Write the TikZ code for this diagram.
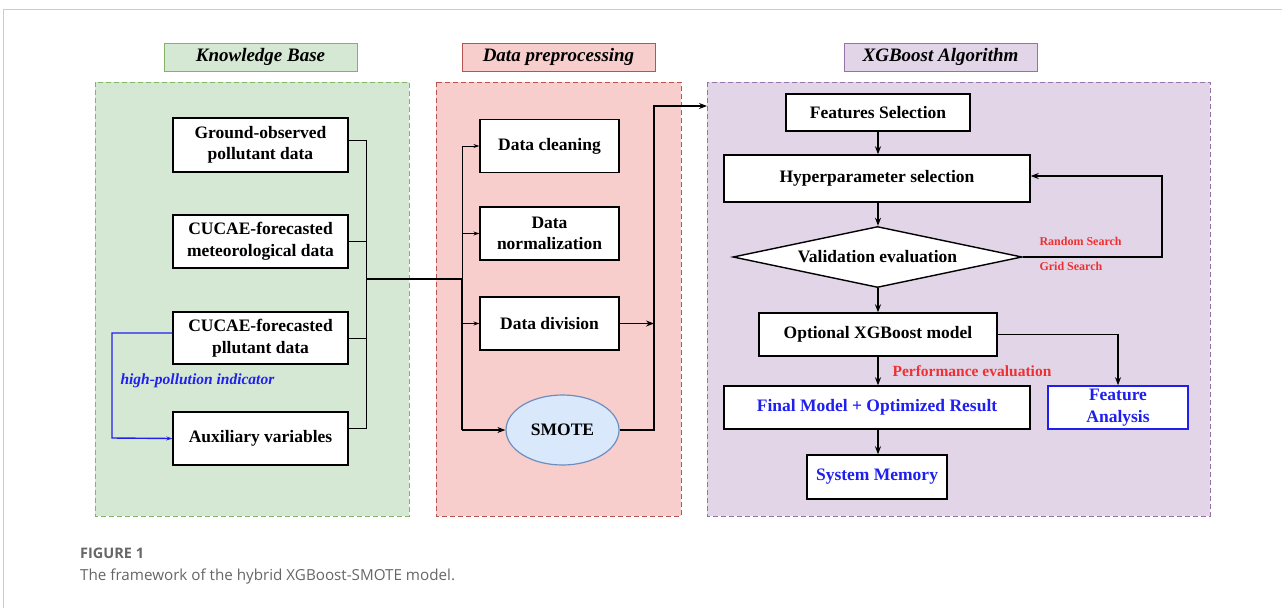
\documentclass[tikz,border=0pt]{standalone}
\usepackage{fontspec}
\setmainfont{Liberation Serif}
\newfontfamily\capfont{Open Sans}
\usetikzlibrary{arrows.meta,shapes.geometric}
\definecolor{gfill}{HTML}{D5E8D4}
\definecolor{gline}{HTML}{82B366}
\definecolor{rfill}{HTML}{F8CECC}
\definecolor{rline}{HTML}{B85450}
\definecolor{pfill}{HTML}{E1D5E7}
\definecolor{pline}{HTML}{9673A6}
\definecolor{sfill}{HTML}{DAE8FC}
\definecolor{sline}{HTML}{6C8EBF}
\definecolor{lblue}{HTML}{1F1FF0}
\definecolor{lred}{HTML}{F03030}
\definecolor{capgray}{HTML}{666666}
\tikzset{
  panel/.style={draw=#1, dashed, dash pattern=on 5pt off 3pt, line width=1pt},
  titlebox/.style={draw=#1, line width=1pt, minimum width=193pt, minimum height=28pt, inner sep=0pt, font=\fontsize{19}{21}\selectfont\bfseries\itshape},
  box/.style={draw, fill=white, line width=1.4pt, inner sep=0pt, align=center, font=\fontsize{17.5}{21.5}\selectfont\bfseries},
  conn/.style={line width=0.8pt},
  thick conn/.style={line width=1.3pt},
  arr/.style={-{Stealth[length=8pt,width=6pt]}},
  sarr/.style={-{Stealth[length=6pt,width=4pt]}},
}
\begin{document}
\begin{tikzpicture}[x=1pt,y=-1pt]
\useasboundingbox (0,0) rectangle (1282,608);
% page frame
\draw[black!20, line width=1pt] (3,608) -- (3,9) -- (1282,9);
% panels
\fill[gfill] (95,82) rectangle (409,516);
\draw[panel=gline] (95,82) rectangle (409,516);
\fill[rfill] (436,82) rectangle (681,516);
\draw[panel=rline] (436,82) rectangle (681,516);
\fill[pfill] (707,82) rectangle (1210,516);
\draw[panel=pline] (707,82) rectangle (1210,516);
% titles
\node[titlebox=gline, fill=gfill] (tkb) at (260.5,57) {Knowledge Base};
\node[titlebox=rline, fill=rfill] (tdp) at (558.5,57) {Data preprocessing};
\node[titlebox=pline, fill=pfill] (txg) at (940.5,57) {XGBoost Algorithm};
% knowledge base boxes
\node[box, minimum width=175pt, minimum height=54pt] (ground) at (260.5,145) {Ground-observed\\pollutant data};
\node[box, minimum width=175pt, minimum height=53pt] (meteo) at (260.5,241.5) {CUCAE-forecasted\\meteorological data};
\node[box, minimum width=175pt, minimum height=52pt] (pllu) at (260.5,338) {CUCAE-forecasted\\pllutant data};
\node[box, minimum width=175pt, minimum height=53pt] (aux) at (260.5,438.5) {Auxiliary variables};
% bus
\coordinate (busT) at (366,140);
\coordinate (busB) at (366,428);
\coordinate (busM) at (366,279);
\coordinate (split) at (462,279);
\draw[conn] (ground.east |- busT) -- (busT) -- (busB) -- (aux.east |- busB);
\draw[conn] (meteo.east) -- (meteo.east -| busT);
\draw[conn] (pllu.east) -- (pllu.east -| busT);
% blue indicator
\coordinate (bl1) at (112,333);
\coordinate (bl2) at (112,438);
\draw[lblue, line width=1.4pt, sarr] (pllu.west |- bl1) -- (bl1) -- (bl2) -- (aux.west);
\node[text=lblue, font=\fontsize{15.5}{17}\selectfont\bfseries\itshape, anchor=west] (hpi) at (117,381) {high-pollution indicator};
% preprocessing boxes
\node[box, minimum width=139pt, minimum height=53pt] (clean) at (549.5,146) {Data cleaning};
\node[box, minimum width=139pt, minimum height=53pt] (norm) at (549.5,233.5) {Data\\normalization};
\node[box, minimum width=139pt, minimum height=53pt] (div) at (549.5,323.5) {Data division};
\node[ellipse, draw=sline, fill=sfill, line width=1.2pt, minimum width=113pt, minimum height=70pt, inner sep=0pt, font=\fontsize{17.5}{20}\selectfont\bfseries] (smote) at (562.5,430) {SMOTE};
% main flow
\draw[thick conn] (busM) -- (split);
\coordinate (spT) at (462,146);
\coordinate (spB) at (462,430);
\draw[conn] (spT) -- (split);
\draw[thick conn] (split) -- (spB);
\draw[conn, sarr] (spT) -- (clean.west);
\draw[conn, sarr] (norm.west -| spT) -- (norm.west);
\draw[conn, sarr] (div.west -| spT) -- (div.west);
\draw[thick conn, arr] (spB) -- (smote.west);
\coordinate (jn) at (654,323.5);
\coordinate (jt) at (654,106);
\coordinate (xin) at (707,106);
\draw[thick conn, arr] (div.east) -- (jn);
\draw[thick conn, arr] (smote.east) -| (jt) -- (xin);
% XGBoost boxes
\node[box, minimum width=184pt, minimum height=37pt] (feat) at (878,112.5) {Features Selection};
\node[box, minimum width=306pt, minimum height=47pt] (hyper) at (877,178.5) {Hyperparameter selection};
\node[diamond, draw, fill=white, line width=1.4pt, aspect=4.74, minimum width=289pt, minimum height=61pt, inner sep=0pt] (valid) at (877.5,257) {};
\node[font=\fontsize{17.5}{20}\selectfont\bfseries] (validt) at (877.5,257) {Validation evaluation};
\node[box, minimum width=238pt, minimum height=43pt] (opt) at (878,334.5) {Optional XGBoost model};
\node[box, minimum width=306pt, minimum height=43pt, text=lblue] (final) at (877,407.5) {Final Model + Optimized Result};
\node[box, draw=lblue, line width=1.6pt, minimum width=140pt, minimum height=43pt, text=lblue] (fana) at (1118,407.5) {Feature\\Analysis};
\node[box, minimum width=140pt, minimum height=44pt, text=lblue] (sysm) at (877,477) {System Memory};
% XGBoost arrows
\coordinate (cx) at (878,0);
\draw[thick conn, arr] (feat.south -| cx) -- (hyper.north -| cx);
\draw[thick conn, arr] (hyper.south -| cx) -- (valid.north -| cx);
\draw[thick conn, arr] (valid.south -| cx) -- (opt.north -| cx);
\draw[thick conn, arr] (opt.south -| cx) -- (final.north -| cx);
\draw[thick conn, arr] (final.south -| cx) -- (sysm.north -| cx);
\draw[thick conn, arr] (opt.east) -| (fana.north);
\coordinate (lpR) at (1162,257);
\coordinate (lpT) at (1162,176);
\draw[thick conn, arr] (valid.east) -- (lpR) -- (lpT) -- (hyper.east |- lpT);
% labels
\node[text=lred, font=\fontsize{12}{14}\selectfont\bfseries, anchor=west] (rs) at (1036,241) {Random Search};
\node[text=lred, font=\fontsize{12}{14}\selectfont\bfseries, anchor=west] (gs) at (1036,266) {Grid Search};
\node[text=lred, font=\fontsize{15.5}{17}\selectfont\bfseries, anchor=west] (pe) at (889,371) {Performance evaluation};
% caption
\node[text=capgray, font=\capfont\fontsize{14.5}{16}\selectfont\bfseries, anchor=west, inner sep=0pt] (fig) at (80,553) {FIGURE 1};
\node[text=capgray, font=\capfont\fontsize{15.2}{17}\selectfont, anchor=west, inner sep=0pt] (capt) at (80,577) {The framework of the hybrid XGBoost-SMOTE model.};
\end{tikzpicture}
\end{document}
